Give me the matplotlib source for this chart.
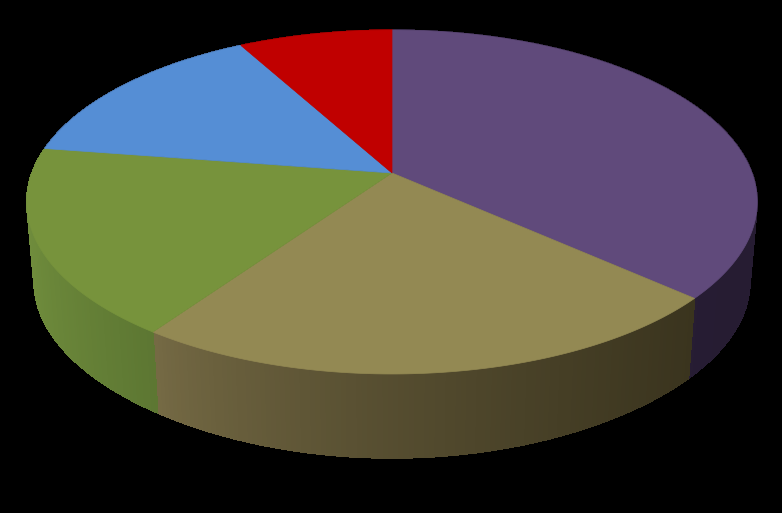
import numpy as np
import matplotlib
matplotlib.use("Agg")
import matplotlib.pyplot as plt

# slices clockwise from 12 o'clock, shares in percent
labels = ["purple", "tan", "green", "blue", "red"]
shares = [36.6, 23.1, 17.7, 14.6, 8.0]
top_colors = ["#604a7b", "#938953", "#77933c", "#558ed5", "#c00000"]
# side colour at the left and right end of each slice's wall
side_left = ["#2a2038", "#766b45", "#6f8c3c", "#3a5a88", "#700000"]
side_right = ["#261c32", "#3a341e", "#5c7632", "#3a5a88", "#700000"]

# picture geometry, pixels
cx, cy = 392, 173
A, B, k = 360.0, 167.1, 0.1686
shrink = 0.98


def top_xy(theta):
    # perspective of the unit circle, theta clockwise from top
    u, v = np.sin(theta), np.cos(theta)
    w = 1 + k * v
    return cx + A * u / w, cy - B * v / w


def wall_depth(theta):
    return 79.5 + 4.5 * np.cos(theta) ** 6


def hex_rgb(c):
    return np.array(matplotlib.colors.to_rgb(c))


fig = plt.figure(figsize=(7.82, 5.13), dpi=100, facecolor="black")
ax = fig.add_axes([0, 0, 1, 1])
ax.set_xlim(0, 782)
ax.set_ylim(513, 0)
ax.axis("off")

edges = np.radians(np.cumsum([0] + shares) * 3.6)

# walls first, the top covers whatever is behind
for i in range(len(shares)):
    a0, a1 = edges[i], edges[i + 1]
    n = int((a1 - a0) / np.radians(0.7)) + 1
    t = np.linspace(a0, a1, n + 1)
    x, y = top_xy(t)
    xb = cx + shrink * (x - cx)
    yb = y + wall_depth(t)
    # smooth outline under the strips
    mean_col = (hex_rgb(side_left[i]) + hex_rgb(side_right[i])) / 2
    ax.fill(np.r_[x, xb[::-1]], np.r_[y, yb[::-1]], color=mean_col, lw=0, zorder=1)
    span_l, span_r = min(x.min(), xb.min()), max(x.max(), xb.max())
    for j in range(n):
        f = ((0.5 * (x[j] + x[j + 1]) - span_l) / (span_r - span_l)) ** 0.75
        col = hex_rgb(side_left[i]) * (1 - f) + hex_rgb(side_right[i]) * f
        ax.fill([x[j], x[j + 1], xb[j + 1], xb[j]],
                [y[j], y[j + 1], yb[j + 1], yb[j]],
                color=col, lw=0.5, antialiased=False, zorder=2)

# top face
for i in range(len(shares)):
    t = np.linspace(edges[i], edges[i + 1], 200)
    x, y = top_xy(t)
    ax.fill(np.r_[cx, x], np.r_[cy, y], color=top_colors[i], lw=0.5, zorder=3)

fig.savefig("out.png", dpi=100, facecolor="black")
